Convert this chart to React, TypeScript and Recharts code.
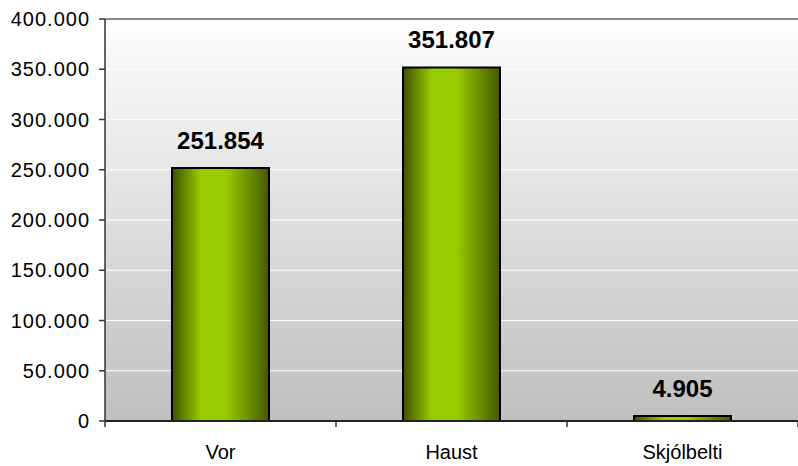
import React from "react";
import {
  BarChart,
  Bar,
  XAxis,
  YAxis,
  CartesianGrid,
  ReferenceLine,
  LabelList,
} from "recharts";

const categories = ["Vor", "Haust", "Skjólbelti"];
const values = [251854, 351807, 4905];
const yTicks = [0, 50000, 100000, 150000, 200000, 250000, 300000, 350000, 400000];

const data = categories.map((name, i) => ({ name, value: values[i] }));

const fmt = (v: number) => {
  const s = Math.round(v).toString();
  return s.replace(/\B(?=(\d{3})+(?!\d))/g, ".");
};

const FONT = "'Liberation Sans', Arial, sans-serif";
const CHART_W = 798;
const CHART_H = 466;
const Y_AXIS_W = 105;
const BAND = (CHART_W - Y_AXIS_W) / categories.length;

const CategoryTick = (props: any) => {
  const { x, y, payload, index } = props;
  const isLast = index === categories.length - 1;
  return (
    <g>
      <line x1={x - BAND / 2} x2={x - BAND / 2} y1={y - 24} y2={y - 18} stroke="#333" strokeWidth={1.5} />
      {isLast && (
        <line x1={x + BAND / 2} x2={x + BAND / 2} y1={y - 24} y2={y - 18} stroke="#333" strokeWidth={1.5} />
      )}
      <text x={x} y={y} dy="0.71em" textAnchor="middle" fill="#000" fontSize={20} fontFamily={FONT}>
        {payload.value}
      </text>
    </g>
  );
};

export default function App() {
  return (
    <div style={{ position: "absolute", left: 0, top: 0, width: CHART_W, height: CHART_H, background: "#fff" }}>
      <BarChart
        width={CHART_W}
        height={CHART_H}
        data={data}
        margin={{ top: 19, right: 0, left: 0, bottom: 0 }}
        barCategoryGap="29%"
        style={{ fontFamily: FONT }}
      >
        <defs>
          <linearGradient id="bgGrad" x1="0" y1="0" x2="0" y2="1">
            <stop offset="0%" stopColor="#fefefe" />
            <stop offset="100%" stopColor="#bfbfbf" />
          </linearGradient>
          <linearGradient id="barGrad" x1="0" y1="0" x2="1" y2="0">
            <stop offset="0%" stopColor="#3e5000" />
            <stop offset="30%" stopColor="#99cc00" />
            <stop offset="55%" stopColor="#99cc00" />
            <stop offset="100%" stopColor="#445800" />
          </linearGradient>
        </defs>
        <CartesianGrid
          vertical={false}
          stroke="#ffffff"
          strokeWidth={1}
          fill="url(#bgGrad)"
          fillOpacity={1}
        />
        <XAxis
          dataKey="name"
          axisLine={{ stroke: "#222", strokeWidth: 2 }}
          tickLine={false}
          tickSize={0}
          tickMargin={24}
          height={45}
          interval={0}
          tick={<CategoryTick />}
        />
        <YAxis
          width={Y_AXIS_W}
          domain={[0, 400000]}
          ticks={yTicks}
          tickFormatter={fmt}
          axisLine={{ stroke: "#333", strokeWidth: 1.5 }}
          tickLine={{ stroke: "#333", strokeWidth: 1.5 }}
          tickSize={6}
          tickMargin={9}
          interval={0}
          tick={{ fill: "#000", fontSize: 20, fontFamily: FONT, letterSpacing: 1 }}
        />
        <ReferenceLine y={400000} stroke="#8a8a8a" strokeWidth={2} />
        <Bar
          dataKey="value"
          fill="url(#barGrad)"
          stroke="#000"
          strokeWidth={2}
          isAnimationActive={false}
        >
          <LabelList
            dataKey="value"
            position="top"
            offset={19}
            formatter={(v: any) => fmt(Number(v))}
            style={{ fill: "#000", fontSize: 24, fontWeight: "bold", fontFamily: FONT }}
          />
        </Bar>
      </BarChart>
    </div>
  );
}
